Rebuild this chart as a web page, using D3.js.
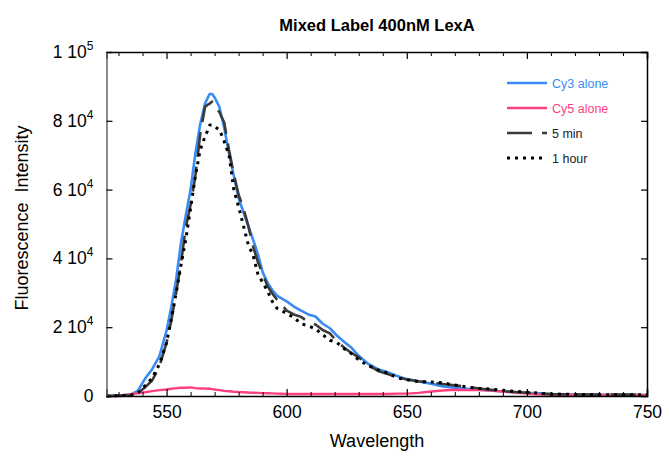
<!DOCTYPE html>
<html><head><meta charset="utf-8">
<script src="https://cdn.jsdelivr.net/npm/d3@7"></script>
<style>body{margin:0;background:#fff}svg{display:block}text{font-family:"Liberation Sans",Arial,sans-serif}</style>
</head><body><svg id="c" width="669" height="460"></svg>
<script>
const wavelengths = [525,530,535,538,541,544,547,550,552,554,556,558,560,562,564,566,567,568,569,570,572,574,576,578,580,582,584,586,588,590,592,594,596,598,600,603,606,609,612,615,618,621,624,627,630,634,638,642,646,650,655,660,665,670,675,680,685,690,695,700,705,710,720,730,740,750];
const cy3Alone = [0,100,400,1500,5000,7800,11500,19000,26000,34000,44500,52500,60000,70500,79000,85000,86500,87800,87800,86800,84000,78000,70500,64000,57500,53500,49500,45500,41300,36000,33000,30800,29200,28300,27500,26000,24800,23700,23100,21000,19700,17500,15700,14000,11700,9300,7800,6900,5800,4900,4200,3600,2800,2400,2100,1800,1600,1300,1100,900,800,600,450,350,300,300];
const cy5Alone = [0,0,500,800,1100,1400,1700,1900,2100,2300,2400,2400,2500,2300,2200,2200,2100,2100,2000,1900,1700,1500,1400,1250,1150,1100,1000,950,900,850,800,750,700,650,600,600,600,600,600,600,600,600,600,600,600,600,600,600,700,700,900,1300,1600,1800,1700,1700,1600,1300,1000,700,500,400,350,300,300,300];
const fiveMin = [0,100,200,800,2500,4500,8500,15500,22000,30000,38500,49000,55500,64000,76000,84000,84600,85000,85600,84500,82500,79500,71500,64500,58500,54500,49500,43500,39000,35500,32000,29800,28000,26500,24800,23700,23000,21500,20800,19200,18200,15800,14000,12500,11200,9000,7300,6400,5500,4800,4300,3900,3500,3100,2700,2200,1800,1400,1150,950,700,550,450,400,400,400];
const oneHour = [0,100,200,800,3000,5200,9200,15500,22500,30000,38000,45500,54500,64000,71500,75500,77000,78800,78800,78200,77500,74000,70000,60000,55000,49500,44000,41000,35500,33000,30600,27500,25500,24800,24000,22800,21000,20400,19500,17800,16200,15500,13700,12300,10500,8800,7600,6700,5300,4700,4200,4100,3800,3200,2600,2200,2000,1650,1350,1100,800,600,450,400,350,350];
const seriesNames = ["Cy3 alone","Cy5 alone","5 min","1 hour"];
const xTicks = [550,600,650,700,750];
const yTickMant = [0,2,4,6,8,1];
const yTickVals = [0,20000,40000,60000,80000,100000];
const yTickExp = [null,4,4,4,4,5];

const svg = d3.select("#c");
const L=106.5, R=647, T=52, B=396;
const x = d3.scaleLinear().domain([525,750]).range([L,R]);
const y = d3.scaleLinear().domain([0,100000]).range([B,T]);

const series = [
  {name:seriesNames[0], vals:cy3Alone, color:"#3a8cf4", dash:null, w:2.6},
  {name:seriesNames[1], vals:cy5Alone, color:"#ff3f82", dash:null, w:2.4},
  {name:seriesNames[2], vals:fiveMin, color:"#3a3a3a", dash:"25,10", w:2.6},
  {name:seriesNames[3], vals:oneHour, color:"#000", dash:"3,5", w:3}
];

const line = d3.line().x(d=>x(d[0])).y(d=>y(d[1]));
series.forEach(s=>{
  svg.append("path").datum(wavelengths.map((w,i)=>[w,s.vals[i]]))
    .attr("d",line).attr("fill","none").attr("stroke",s.color)
    .attr("stroke-width",s.w).attr("stroke-dasharray",s.dash)
    .attr("stroke-linejoin","round");
});

const minor = d3.range(530,750,10).filter(v=>v%50!==0);
const gAx = svg.append("g");
gAx.append("g").attr("transform",`translate(0,${B})`)
  .call(d3.axisBottom(x).tickValues(xTicks).tickSize(-7).tickPadding(8).tickFormat(d3.format("d")))
  .call(g=>g.selectAll(".tick line").attr("stroke","#000").attr("stroke-width",1.2))
  .call(g=>g.select(".domain").attr("stroke","#000").attr("stroke-width",1.5))
  .call(g=>g.selectAll("text").attr("font-size",17.5).attr("fill","#000").attr("dy","0.8em"));
gAx.append("g").attr("transform",`translate(0,${B})`)
  .call(d3.axisBottom(x).tickValues(minor).tickSize(-4).tickFormat(""))
  .call(g=>g.select(".domain").remove())
  .call(g=>g.selectAll(".tick line").attr("stroke","#000").attr("stroke-width",1));
gAx.append("g").attr("transform",`translate(0,${T})`)
  .call(d3.axisTop(x).tickValues(xTicks).tickSize(-7).tickFormat(""))
  .call(g=>g.selectAll(".tick line").attr("stroke","#000").attr("stroke-width",1.2))
  .call(g=>g.select(".domain").attr("stroke","#000").attr("stroke-width",1.5));
gAx.append("g").attr("transform",`translate(0,${T})`)
  .call(d3.axisTop(x).tickValues(minor).tickSize(-4).tickFormat(""))
  .call(g=>g.select(".domain").remove())
  .call(g=>g.selectAll(".tick line").attr("stroke","#000").attr("stroke-width",1));
gAx.append("g").attr("transform",`translate(${L},0)`)
  .call(d3.axisLeft(y).tickValues(yTickVals).tickSize(-6).tickFormat(""))
  .call(g=>g.selectAll(".tick line").attr("stroke","#000").attr("stroke-width",1.2))
  .call(g=>g.select(".domain").attr("stroke","#666").attr("stroke-width",1.5));
gAx.append("g").attr("transform",`translate(${R},0)`)
  .call(d3.axisRight(y).tickValues(yTickVals).tickSize(-6).tickFormat(""))
  .call(g=>g.selectAll(".tick line").attr("stroke","#000").attr("stroke-width",1.2))
  .call(g=>g.select(".domain").attr("stroke","#000").attr("stroke-width",1.5));

yTickVals.forEach((v,i)=>{
  const t = svg.append("text").attr("x",L-13).attr("y",y(v)+6)
    .attr("text-anchor","end").attr("font-size",17.5).attr("fill","#000");
  if(yTickExp[i]===null){ t.text(String(yTickMant[i])); }
  else {
    t.append("tspan").text(yTickMant[i]+" 10");
    t.append("tspan").attr("dy",-8).attr("font-size",12).text(yTickExp[i]);
  }
});

svg.append("text").attr("x",377).attr("y",31).attr("text-anchor","middle")
  .attr("font-size",16.5).attr("font-weight","bold").text("Mixed Label 400nM LexA");
svg.append("text").attr("x",377).attr("y",447).attr("text-anchor","middle")
  .attr("font-size",18).text("Wavelength");
svg.append("text").attr("transform","translate(28,218) rotate(-90)").attr("text-anchor","middle")
  .attr("font-size",18).style("white-space","pre").text("Fluorescence  Intensity");

const lg = svg.append("g");
series.forEach((s,i)=>{
  const yy = 83 + i*25;
  lg.append("line").attr("x1",507).attr("x2",547).attr("y1",yy).attr("y2",yy)
    .attr("stroke",s.color).attr("stroke-width",s.w).attr("stroke-dasharray",s.dash);
  lg.append("text").attr("x",552).attr("y",yy+4.5).attr("font-size",12.5)
    .attr("fill", i<2 ? s.color : "#222").text(s.name);
});
</script></body></html>
